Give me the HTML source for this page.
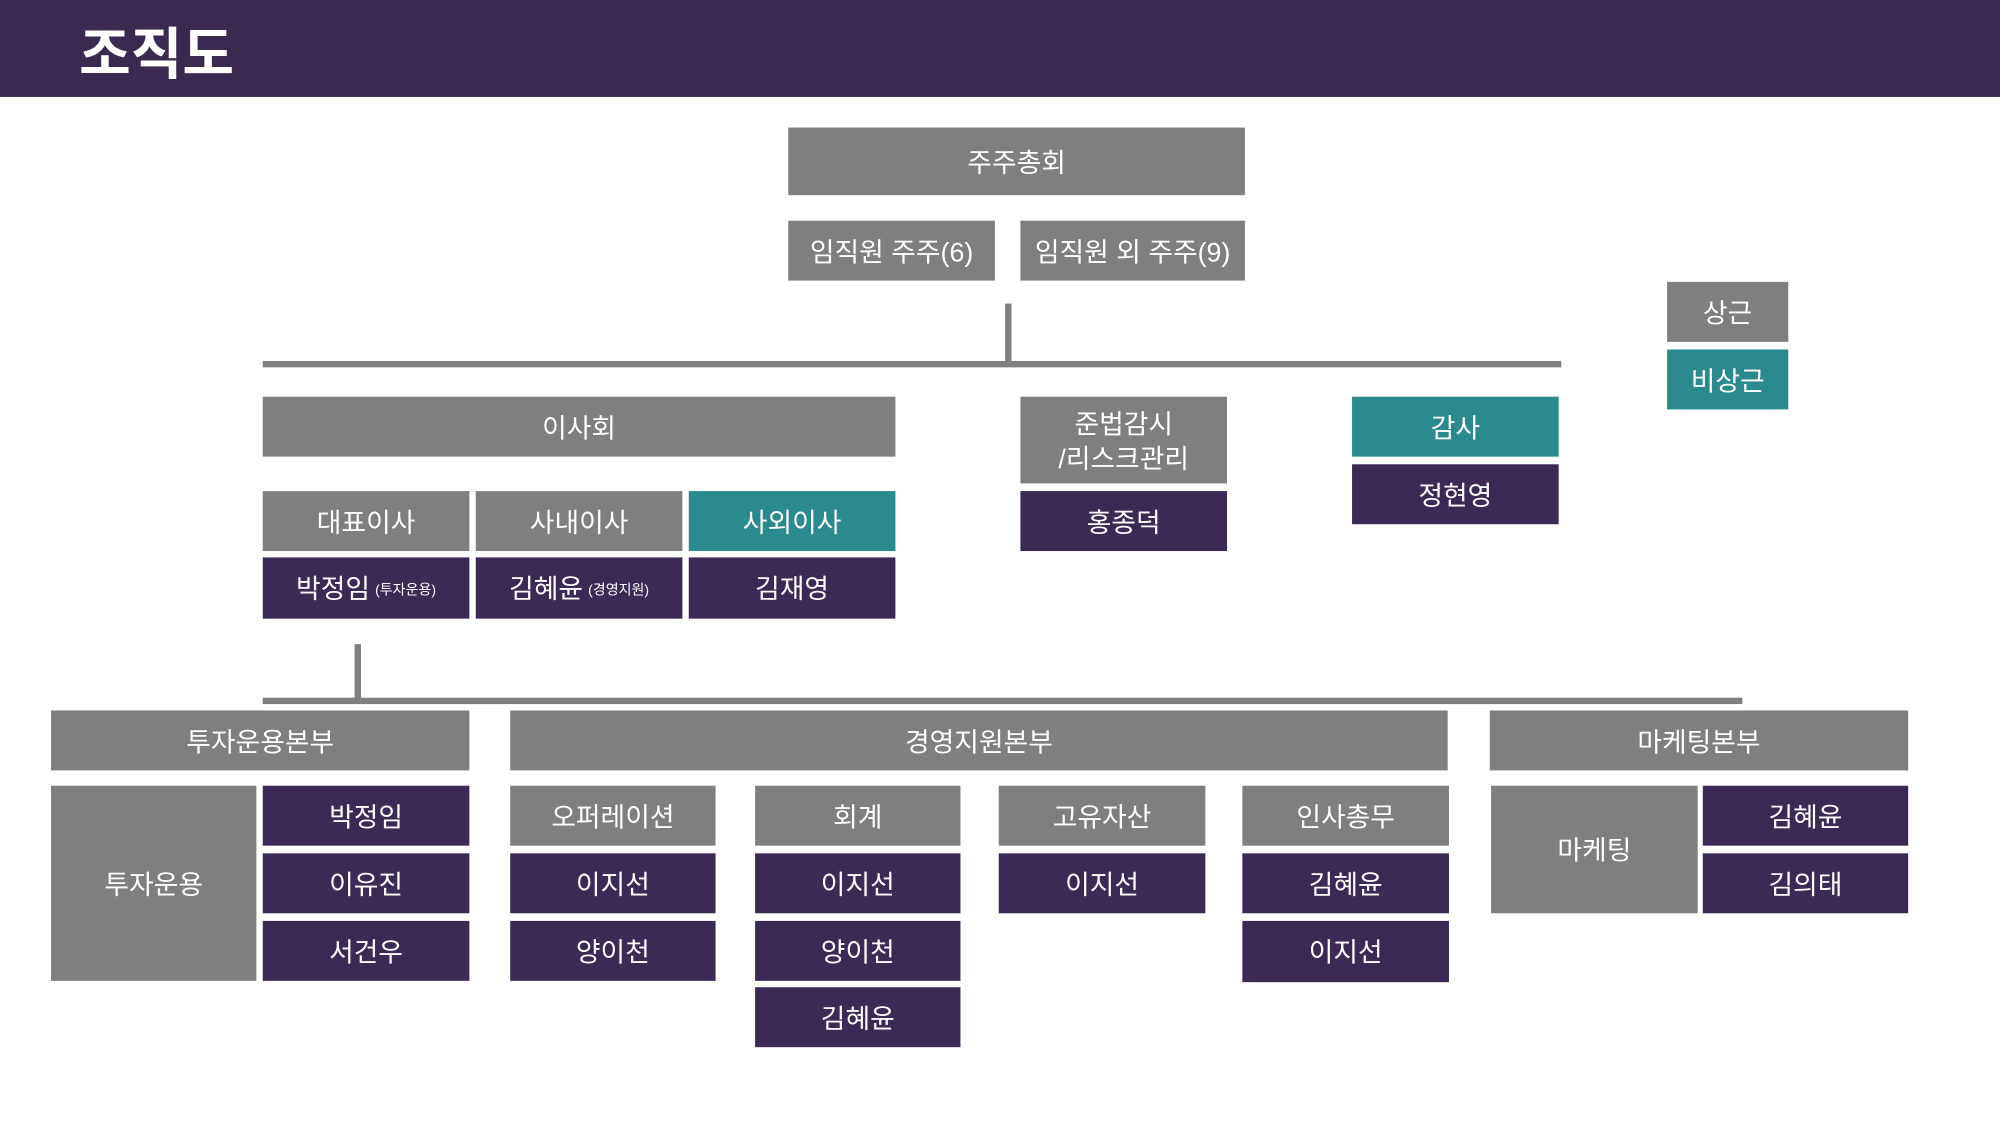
<!DOCTYPE html>
<html><head><meta charset="utf-8"><style>
html,body{margin:0;padding:0;width:2000px;height:1125px;overflow:hidden;background:#fff}
#w{position:absolute;left:0;top:0;width:1568px;height:882px;transform:scale(1.27551);transform-origin:0 0;font-family:"Liberation Sans","Noto Sans CJK KR","NanumGothic",sans-serif}
.b{position:absolute;display:flex;align-items:center;justify-content:center;color:#fff;font-size:21px;text-align:center;line-height:1.25;box-sizing:border-box;padding-top:5px}
.g{background:#7f7f7f}.p{background:#3b2a55}.t{background:#2a8a8f}
.l{position:absolute;background:#7f7f7f}
small{font-size:11px;margin-left:4px}
</style></head><body><div id="w">
<div style="position:absolute;left:0;top:0;width:1568px;height:76px;background:#3a2a52"></div>
<div style="position:absolute;left:62px;top:7px;color:#fff;font-size:44px;font-weight:bold">조직도</div>

<div class="b g" style="left:618px;top:100px;width:358px;height:53px">주주총회</div>
<div class="b g" style="left:618px;top:173px;width:162px;height:47px">임직원 주주(6)</div>
<div class="b g" style="left:800px;top:173px;width:176px;height:47px">임직원 외 주주(9)</div>
<div class="l" style="left:788px;top:238px;width:5px;height:46px"></div>
<div class="l" style="left:206px;top:283px;width:1018px;height:5px"></div>

<div class="b g" style="left:1307px;top:221px;width:95px;height:47px">상근</div>
<div class="b t" style="left:1307px;top:274px;width:95px;height:47px">비상근</div>

<div class="b g" style="left:206px;top:311px;width:496px;height:47px">이사회</div>
<div class="b g" style="left:206px;top:385px;width:162px;height:47px">대표이사</div>
<div class="b g" style="left:373px;top:385px;width:162px;height:47px">사내이사</div>
<div class="b t" style="left:540px;top:385px;width:162px;height:47px">사외이사</div>
<div class="b p" style="left:206px;top:437px;width:162px;height:48px">박정임<small>(투자운용)</small></div>
<div class="b p" style="left:373px;top:437px;width:162px;height:48px">김혜윤<small>(경영지원)</small></div>
<div class="b p" style="left:540px;top:437px;width:162px;height:48px">김재영</div>

<div class="b g" style="left:800px;top:311px;width:162px;height:68px">준법감시<br>/리스크관리</div>
<div class="b p" style="left:800px;top:385px;width:162px;height:47px">홍종덕</div>
<div class="b t" style="left:1060px;top:311px;width:162px;height:47px">감사</div>
<div class="b p" style="left:1060px;top:364px;width:162px;height:47px">정현영</div>

<div class="l" style="left:278px;top:505px;width:5px;height:44px"></div>
<div class="l" style="left:206px;top:547px;width:1160px;height:5px"></div>

<div class="b g" style="left:40px;top:557px;width:328px;height:47px">투자운용본부</div>
<div class="b g" style="left:400px;top:557px;width:735px;height:47px">경영지원본부</div>
<div class="b g" style="left:1168px;top:557px;width:328px;height:47px">마케팅본부</div>

<div class="b g" style="left:40px;top:616px;width:161px;height:153px">투자운용</div>
<div class="b p" style="left:206px;top:616px;width:162px;height:47px">박정임</div>
<div class="b p" style="left:206px;top:669px;width:162px;height:47px">이유진</div>
<div class="b p" style="left:206px;top:722px;width:162px;height:47px">서건우</div>

<div class="b g" style="left:400px;top:616px;width:161px;height:47px">오퍼레이션</div>
<div class="b p" style="left:400px;top:669px;width:161px;height:47px">이지선</div>
<div class="b p" style="left:400px;top:722px;width:161px;height:47px">양이천</div>

<div class="b g" style="left:592px;top:616px;width:161px;height:47px">회계</div>
<div class="b p" style="left:592px;top:669px;width:161px;height:47px">이지선</div>
<div class="b p" style="left:592px;top:722px;width:161px;height:47px">양이천</div>
<div class="b p" style="left:592px;top:774px;width:161px;height:47px">김혜윤</div>

<div class="b g" style="left:783px;top:616px;width:162px;height:47px">고유자산</div>
<div class="b p" style="left:783px;top:669px;width:162px;height:47px">이지선</div>

<div class="b g" style="left:974px;top:616px;width:162px;height:47px">인사총무</div>
<div class="b p" style="left:974px;top:669px;width:162px;height:47px">김혜윤</div>
<div class="b p" style="left:974px;top:722px;width:162px;height:48px">이지선</div>

<div class="b g" style="left:1169px;top:616px;width:162px;height:100px">마케팅</div>
<div class="b p" style="left:1335px;top:616px;width:161px;height:47px">김혜윤</div>
<div class="b p" style="left:1335px;top:669px;width:161px;height:47px">김의태</div>
</div></body></html>
